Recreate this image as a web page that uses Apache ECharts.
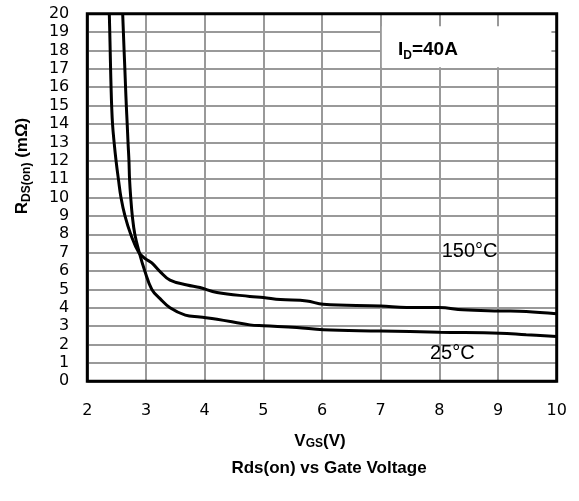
<!DOCTYPE html>
<html><head><meta charset="utf-8">
<script src="https://cdn.jsdelivr.net/npm/echarts@6/dist/echarts.min.js"></script>
<style>html,body{margin:0;padding:0;background:#fff}#c{width:579px;height:501px}</style>
</head><body><div id="c"></div>
<script>
// ---- data ----
const xTickLabels = ['2','3','4','5','6','7','8','9','10'];
const yTickLabels = ['0','1','2','3','4','5','6','7','8','9','10','11','12','13','14','15','16','17','18','19','20'];
const vgs150 = [2.375, 2.383, 2.39, 2.397, 2.405, 2.415, 2.43, 2.457, 2.49, 2.53, 2.574, 2.642, 2.74, 2.88, 3.00, 3.10, 3.24, 3.41, 3.70, 3.92, 4.21, 4.77, 5.00, 5.29, 5.74, 6.02, 7.00, 7.44, 8.00, 8.40, 9.03, 9.48, 10.0];
const rds150 = [20.0, 19.0, 18.0, 17.0, 16.0, 15.0, 14.0, 13.0, 12.0, 11.0, 10.0, 9.0, 8.0, 7.0, 6.65, 6.44, 5.97, 5.50, 5.24, 5.10, 4.83, 4.62, 4.56, 4.45, 4.37, 4.19, 4.10, 4.01, 4.01, 3.89, 3.83, 3.80, 3.67];
const vgs25 = [2.603, 2.615, 2.627, 2.64, 2.652, 2.665, 2.68, 2.694, 2.71, 2.72, 2.74, 2.767, 2.81, 2.886, 2.98, 3.10, 3.24, 3.41, 3.67, 3.92, 4.21, 4.77, 5.00, 5.57, 6.02, 7.00, 8.00, 9.03, 9.48, 10.0];
const rds25 = [20.0, 19.0, 18.0, 17.0, 16.0, 15.0, 14.0, 13.0, 12.0, 11.0, 10.0, 9.0, 8.0, 7.0, 6.0, 5.0, 4.5, 4.0, 3.6, 3.5, 3.38, 3.07, 3.02, 2.93, 2.80, 2.74, 2.67, 2.62, 2.53, 2.44];
const seriesNames = ['150°C', '25°C'];

const chart = echarts.init(document.getElementById('c'), null, {renderer: 'canvas'});
const zip = (a, b) => a.map((v, i) => [v, b[i]]);
const tickFont = {fontFamily: 'DejaVu Sans', fontSize: 16, color: '#000'};
const gridLine = {show: true, lineStyle: {color: '#999', width: 2}};

chart.setOption({
  animation: false,
  grid: {left: 87.3, right: 22.3, top: 13.7, bottom: 119.7},
  xAxis: {
    type: 'value', min: 2, max: 10, interval: 1,
    axisLine: {show: false}, axisTick: {show: false},
    axisLabel: Object.assign({margin: 22, formatter: v => xTickLabels[Math.round(v) - 2]}, tickFont),
    splitLine: gridLine
  },
  yAxis: {
    type: 'value', min: 0, max: 20, interval: 1,
    axisLine: {show: false}, axisTick: {show: false},
    axisLabel: Object.assign({margin: 18, formatter: v => yTickLabels[Math.round(v)]}, tickFont),
    splitLine: gridLine
  },
  series: [
    {name: seriesNames[0], type: 'line', data: zip(vgs150, rds150), smooth: 0.4, symbol: 'none', clip: true,
     lineStyle: {color: '#000', width: 3}},
    {name: seriesNames[1], type: 'line', data: zip(vgs25, rds25), smooth: 0.4, symbol: 'none', clip: true,
     lineStyle: {color: '#000', width: 3}}
  ]
});

const px = (x, y) => chart.convertToPixel({gridIndex: 0}, [x, y]);
const tl = px(2, 20), br = px(10, 0);
const b1 = px(7.02, 19.32), b2 = px(9.91, 17.09);
const idPos = px(7.295, 18.06);
const p150 = px(8.04, 7.09);
const p25 = px(7.84, 1.49);
const boldF = 'Liberation Sans';

chart.setOption({
  graphic: [
    {type: 'rect', z: 50, shape: {x: b1[0], y: b1[1], width: b2[0] - b1[0], height: b2[1] - b1[1]},
     style: {fill: '#fff', stroke: null}},
    {type: 'rect', z: 100, shape: {x: tl[0], y: tl[1], width: br[0] - tl[0], height: br[1] - tl[1]},
     style: {fill: 'none', stroke: '#000', lineWidth: 3}},
    {type: 'text', z: 60, x: idPos[0], y: idPos[1],
     style: {text: '{m|I}{s|D}{m|=40A}', align: 'left', verticalAlign: 'middle',
       rich: {
         m: {fontFamily: boldF, fontWeight: 'bold', fontSize: 19, lineHeight: 24, fill: '#000'},
         s: {fontFamily: boldF, fontWeight: 'bold', fontSize: 12, lineHeight: 12, verticalAlign: 'bottom', fill: '#000'}
       }}},
    {type: 'text', z: 60, x: p150[0], y: p150[1],
     style: {text: seriesNames[0], align: 'left', verticalAlign: 'middle', fontFamily: 'Liberation Sans', fontSize: 20, fill: '#000'}},
    {type: 'text', z: 60, x: p25[0], y: p25[1],
     style: {text: seriesNames[1], align: 'left', verticalAlign: 'middle', fontFamily: 'Liberation Sans', fontSize: 20, fill: '#000'}},
    {type: 'text', z: 60, x: 22, y: 166, rotation: Math.PI / 2,
     style: {text: '{m|R}{s|DS(on)}{m| (mΩ)}', align: 'center', verticalAlign: 'middle',
       rich: {
         m: {fontFamily: boldF, fontWeight: 'bold', fontSize: 17, lineHeight: 22, fill: '#000'},
         s: {fontFamily: boldF, fontWeight: 'bold', fontSize: 12, lineHeight: 12, verticalAlign: 'bottom', fill: '#000'}
       }}},
    {type: 'text', z: 60, x: (tl[0] + br[0]) / 2 - 2, y: 441,
     style: {text: '{m|V}{s|GS}{m|(V)}', align: 'center', verticalAlign: 'middle',
       rich: {
         m: {fontFamily: boldF, fontWeight: 'bold', fontSize: 17, lineHeight: 17, fill: '#000'},
         s: {fontFamily: boldF, fontWeight: 'bold', fontSize: 12, lineHeight: 12, verticalAlign: 'bottom', fill: '#000'}
       }}},
    {type: 'text', z: 60, x: 329, y: 468,
     style: {text: 'Rds(on) vs Gate Voltage', align: 'center', verticalAlign: 'middle',
       fontFamily: boldF, fontWeight: 'bold', fontSize: 17, fill: '#000'}}
  ]
});
</script>
</body></html>
